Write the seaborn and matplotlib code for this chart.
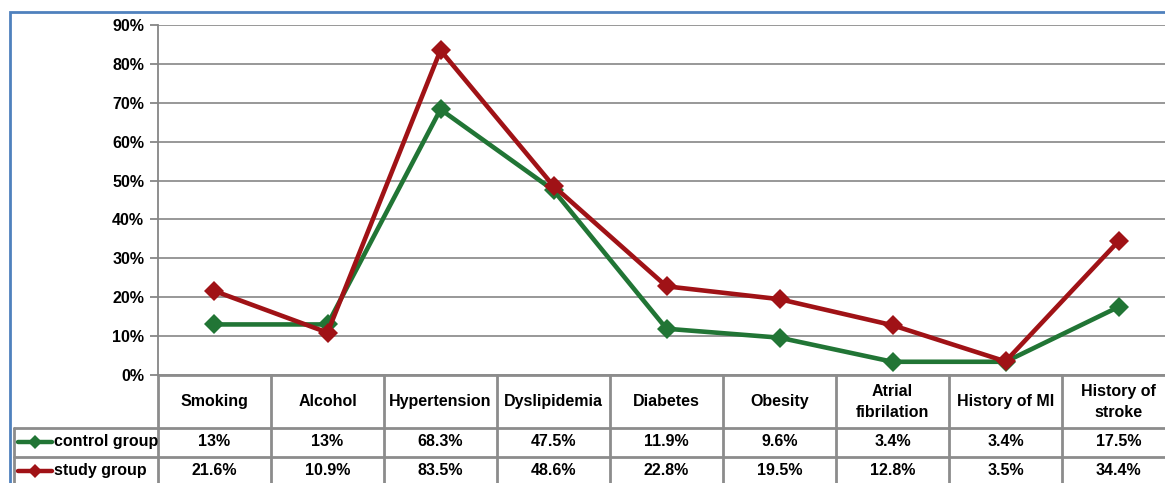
import pandas as pd
import seaborn as sns
import matplotlib.pyplot as plt
from matplotlib.lines import Line2D
from matplotlib.patches import Rectangle
from matplotlib.transforms import blended_transform_factory

# data
categories = ["Smoking", "Alcohol", "Hypertension", "Dyslipidemia", "Diabetes",
              "Obesity", "Atrial\nfibrilation", "History of MI", "History of\nstroke"]
control_group = [13, 13, 68.3, 47.5, 11.9, 9.6, 3.4, 3.4, 17.5]
study_group = [21.6, 10.9, 83.5, 48.6, 22.8, 19.5, 12.8, 3.5, 34.4]
series_names = ["control group", "study group"]
colors = {"control group": "#217535", "study group": "#A01216"}
y_ticks = [0, 10, 20, 30, 40, 50, 60, 70, 80, 90]

df = pd.DataFrame({
    "idx": list(range(len(categories))) * 2,
    "value": control_group + study_group,
    "group": ["control group"] * len(categories) + ["study group"] * len(categories),
})

sns.set_style("white")
plt.rcParams["font.family"] = ["Liberation Sans", "DejaVu Sans"]
plt.rcParams["font.weight"] = "bold"
plt.rcParams["text.color"] = "black"
plt.rcParams["ytick.labelcolor"] = "black"

W, H = 1165, 483
fig = plt.figure(figsize=(W / 100, H / 100), dpi=100)

# outer blue frame
fig.patches.append(Rectangle((10 / W, -0.2), 1.2, (H - 12) / H + 0.2, transform=fig.transFigure,
                             fill=False, edgecolor="#4F81BD", lw=2, zorder=0))

# plot area (extends slightly past the right edge like the original)
ax = fig.add_axes([158 / W, (H - 375) / H, 1017 / W, 350 / H])
sns.lineplot(data=df, x="idx", y="value", hue="group", palette=colors, marker="D",
             markersize=10, markeredgewidth=0, linewidth=3.3, legend=False, ax=ax,
             hue_order=series_names)

ax.set_xlim(-0.5, len(categories) - 0.5)
ax.set_ylim(0, 90)
ax.set_yticks(y_ticks)
ax.set_yticklabels([f"{t}%" for t in y_ticks], fontsize=11.5, fontweight="bold")
ax.tick_params(axis="y", length=6, width=1.3, color="#868686", pad=4, left=True)
ax.set_xticks([])
ax.set_xlabel("")
ax.set_ylabel("")
for t in y_ticks:
    ax.axhline(t, color="#868686", lw=1.2, zorder=0)
for side in ["top", "right", "bottom"]:
    ax.spines[side].set_visible(False)
ax.spines["left"].set_color("#868686")
ax.spines["left"].set_linewidth(1.3)

# data table below the plot
tr = blended_transform_factory(ax.transData, ax.transAxes)
grid_kw = dict(color="#8C8C8C", lw=2, transform=tr, clip_on=False)
row_lines = [0, -0.1514, -0.2343, -0.33]
leg_left = -1.77
n = len(categories)
ax.add_line(Line2D([-0.5, n - 0.5], [row_lines[0]] * 2, **grid_kw))
for y in row_lines[1:3]:
    ax.add_line(Line2D([leg_left, n - 0.5], [y] * 2, **grid_kw))
for k in range(n + 1):
    ax.add_line(Line2D([k - 0.5] * 2, [0, row_lines[-1]], **grid_kw))
ax.add_line(Line2D([leg_left] * 2, [row_lines[1], row_lines[-1]], **grid_kw))

txt_kw = dict(transform=tr, ha="center", va="center", fontsize=11.5, fontweight="bold")
for i, cat in enumerate(categories):
    ax.text(i, -0.077, cat, linespacing=1.45, **txt_kw)
    ax.text(i, -0.191, f"{control_group[i]:g}%", **txt_kw)
    ax.text(i, -0.274, f"{study_group[i]:g}%", **txt_kw)

# legend keys inside the table
for name, y in zip(series_names, [-0.191, -0.274]):
    ax.add_line(Line2D([leg_left + 0.03, leg_left + 0.33], [y, y], color=colors[name], lw=3.2,
                       transform=tr, clip_on=False))
    ax.add_line(Line2D([leg_left + 0.18], [y], color=colors[name], marker="D", markersize=7,
                       markeredgewidth=0, transform=tr, clip_on=False))
    ax.text(leg_left + 0.35, y, name, transform=tr, ha="left", va="center",
            fontsize=11.5, fontweight="bold")

fig.savefig("out.png", dpi=100)
